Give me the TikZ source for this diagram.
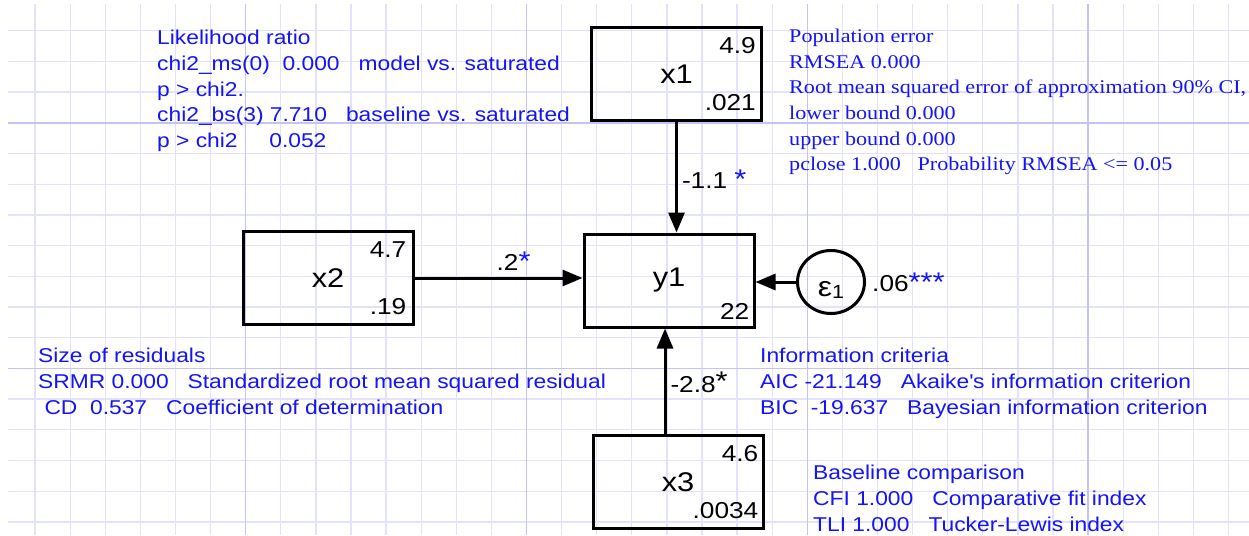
\documentclass[tikz,border=0pt]{standalone}
\usepackage{fontspec}
\newfontfamily\semsans{Liberation Sans}[FakeStretch=1.14]
\newfontfamily\semserif{Liberation Serif}[FakeStretch=1.14]
\usepackage{tikz}
\usetikzlibrary{arrows.meta,positioning,calc,shapes.geometric}
\definecolor{SemBlue}{HTML}{1414F5}
\definecolor{GridMinor}{HTML}{E2E2FC}
\definecolor{GridMajor}{HTML}{C4C4F2}
\tikzset{
  gridline/.style={GridMinor, line width=1.3pt},
  gridmajor/.style={GridMajor, line width=1.5pt},
  semvar/.style={draw, line width=3pt, minimum width=170pt, minimum height=93pt, inner sep=0pt,
                 font=\semsans\fontsize{27}{27}\selectfont},
  semerr/.style={draw, ellipse, line width=3pt, minimum width=67pt, minimum height=63pt, inner sep=0pt,
                 text height=28pt, text depth=0pt},
  semnum/.style={anchor=east, inner sep=0pt, font=\semsans\fontsize{23}{23}\selectfont},
  semcoef/.style={inner sep=4pt, font=\semsans\fontsize{23}{23}\selectfont},
  sempath/.style={-{Triangle[length=20pt,width=16pt]}, line width=3pt},
  semnote/.style={anchor=north west, align=left, inner sep=0pt, text=SemBlue,
                  font=\semsans\fontsize{20}{25.7}\selectfont},
  semnoteserif/.style={semnote, font=\semserif\fontsize{19.4}{25.6}\selectfont}
}
\newcommand\semstar[1]{\textcolor{SemBlue}{\fontsize{27}{27}\selectfont #1}}
\begin{document}
\begin{tikzpicture}[x=1pt, y=-1pt]
\useasboundingbox (0,0) rectangle (1249,535);
\fill[white] (0,0) rectangle (1249,535);
% grid paper
\foreach \k in {1,...,35}
  \draw[gridline] (35.1*\k,4) -- (35.1*\k,535);
\foreach \k in {1,...,17}
  \draw[gridline] (8,30.7*\k) -- (1249,30.7*\k);
\foreach \k in {7,15,23,31}
  \draw[gridmajor] (35.1*\k,4) -- (35.1*\k,535);
\foreach \k in {4,12}
  \draw[gridmajor] (8,30.7*\k) -- (1249,30.7*\k);

% observed variables
\node[semvar] (x1) at (676.5,74) {x1};
\node[semvar] (x2) at (328,278) {x2};
\node[semvar] (y1) at (669,280.5) {y1};
\node[semvar] (x3) at (678,482) {x3};
\node[semerr] (e1) at (831,282) {\semsans\fontsize{28}{28}\selectfont ε\raisebox{-2pt}{\fontsize{19}{19}\selectfont 1}};

\node[semnum] (x1mean) at ($(x1.north east)+(-7,20)$) {4.9};
\node[semnum] (x1var)  at ($(x1.south east)+(-7,-19)$) {.021};
\node[semnum] (x2mean) at ($(x2.north east)+(-8,20)$) {4.7};
\node[semnum] (x2var)  at ($(x2.south east)+(-8,-19)$) {.19};
\node[semnum] (y1cons) at ($(y1.south east)+(-6,-17)$) {22};
\node[semnum] (x3mean) at ($(x3.north east)+(-6,20)$) {4.6};
\node[semnum] (x3var)  at ($(x3.south east)+(-6,-19)$) {.0034};

% paths
\draw[sempath] (x1.south) -- (x1.south |- y1.north)
  node[semcoef, pos=0.52, anchor=west] {-1.1 \semstar{*}};
\draw[sempath] (x2.east) -- (x2.east -| y1.west)
  node[semcoef, pos=0.59, anchor=south, inner sep=6pt] {.2\semstar{*}};
\coordinate (x3top) at ($(x3.north)+(-13,0)$);
\draw[sempath] (x3top) -- (x3top |- y1.south)
  node[semcoef, pos=0.49, anchor=west] {-2.8\raisebox{2pt}{\fontsize{27}{27}\selectfont *}};
\draw[sempath] (e1.west) -- (e1.west -| y1.east);
\node[semcoef, anchor=west, inner sep=6pt] (e1var) at (e1.east)
  {.06\semstar{***}};

% fit statistics
\node[semnote] (lrtest) at (157,30) {Likelihood ratio\\
  chi2\_ms(0)\ \ 0.000\ \ \ model vs. saturated\\
  p > chi2.\\
  chi2\_bs(3) 7.710\ \ \ baseline vs. saturated\\
  p > chi2\ \ \ \ \ 0.052};
\node[semnoteserif] (poperr) at (789,29) {Population error\\
  RMSEA 0.000\\
  Root mean squared error of approximation 90\% CI,\\
  lower bound 0.000\\
  upper bound 0.000\\
  pclose 1.000\ \ \ Probability RMSEA <= 0.05};
\node[semnote] (resid) at (38,348) {Size of residuals\\
  SRMR 0.000\ \ \ Standardized root mean squared residual\\
  \ CD\ \ 0.537\ \ \ Coefficient of determination};
\node[semnote] (infocrit) at (760,348) {Information criteria\\
  AIC -21.149\ \ \ Akaike\textquotesingle s information criterion\\
  BIC\ \ -19.637\ \ \ Bayesian information criterion};
\node[semnote] (basecomp) at (813,465) {Baseline comparison\\
  CFI 1.000\ \ \ Comparative fit index\\
  TLI 1.000\ \ \ Tucker-Lewis index};
\end{tikzpicture}
\end{document}
